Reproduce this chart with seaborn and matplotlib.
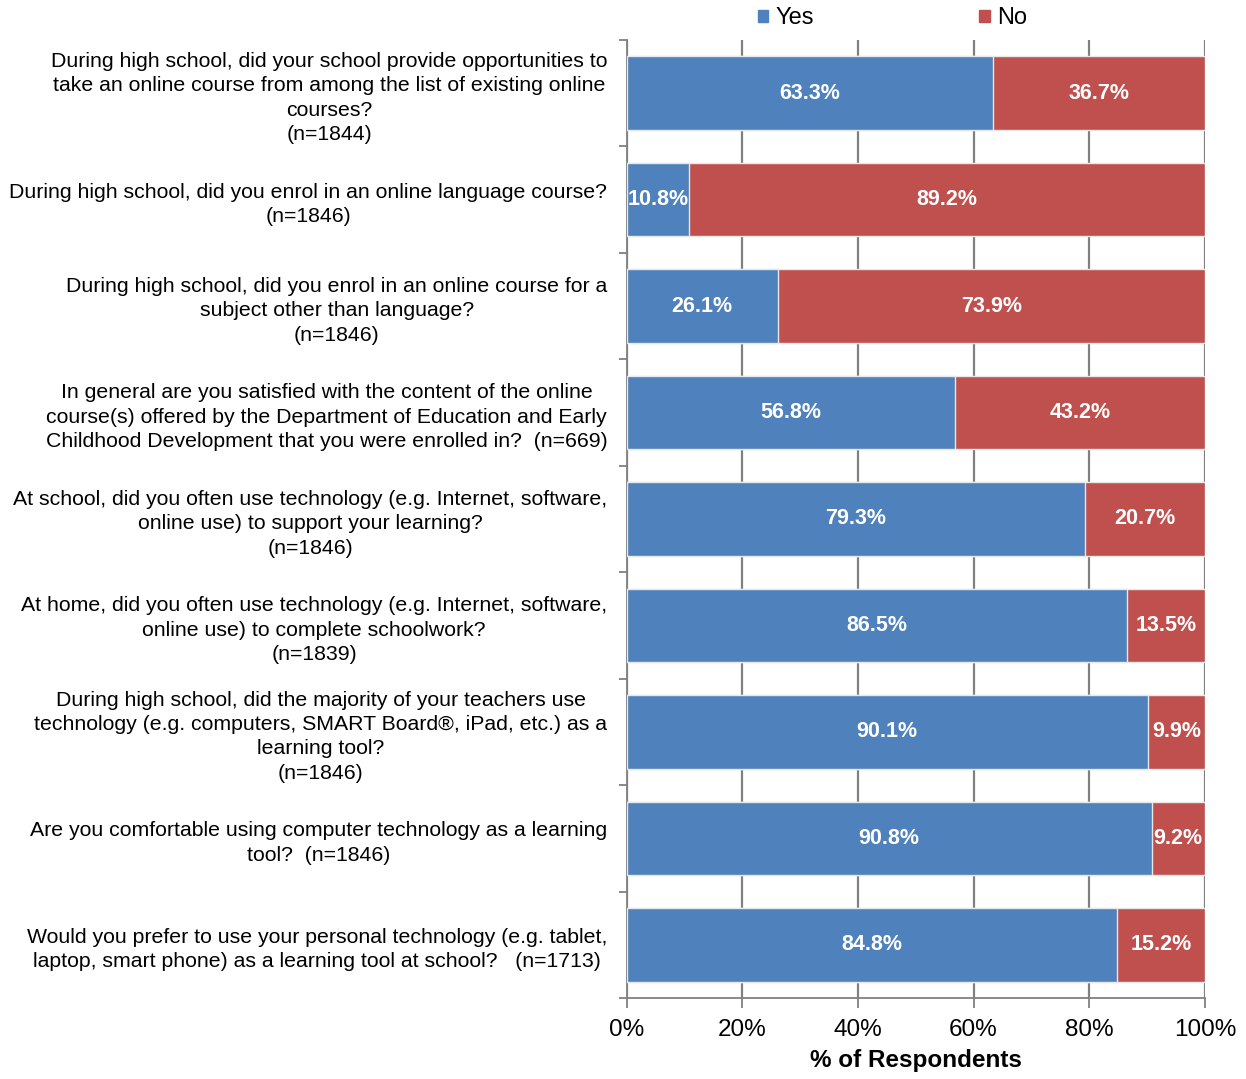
import numpy as np
import pandas as pd
import matplotlib
matplotlib.use("Agg")
import matplotlib.pyplot as plt
from matplotlib.patches import Patch
from matplotlib.ticker import MultipleLocator, FixedLocator
import seaborn as sns

questions = [
    "During high school, did your school provide opportunities to\ntake an online course from among the list of existing online\ncourses?\n(n=1844)",
    "During high school, did you enrol in an online language course?\n(n=1846)",
    "During high school, did you enrol in an online course for a\nsubject other than language?\n(n=1846)",
    "In general are you satisfied with the content of the online\ncourse(s) offered by the Department of Education and Early\nChildhood Development that you were enrolled in?  (n=669)",
    "At school, did you often use technology (e.g. Internet, software,\nonline use) to support your learning?\n(n=1846)",
    "At home, did you often use technology (e.g. Internet, software,\nonline use) to complete schoolwork?\n(n=1839)",
    "During high school, did the majority of your teachers use\ntechnology (e.g. computers, SMART Board®, iPad, etc.) as a\nlearning tool?\n(n=1846)",
    "Are you comfortable using computer technology as a learning\ntool?  (n=1846)",
    "Would you prefer to use your personal technology (e.g. tablet,\nlaptop, smart phone) as a learning tool at school?   (n=1713)",
]
yes = [63.3, 10.8, 26.1, 56.8, 79.3, 86.5, 90.1, 90.8, 84.8]
no = [36.7, 89.2, 73.9, 43.2, 20.7, 13.5, 9.9, 9.2, 15.2]

blue = "#4F81BD"
red = "#C0504D"

df = pd.DataFrame({"q": questions, "yes": yes, "no": no})
df["total"] = df["yes"] + df["no"]

sns.set_style("white")
plt.rcParams["font.family"] = ["Liberation Sans", "DejaVu Sans"]
plt.rcParams["text.color"] = "black"
plt.rcParams["xtick.color"] = "black"
plt.rcParams["ytick.color"] = "black"
plt.rcParams["axes.labelcolor"] = "black"

fig = plt.figure(figsize=(12.46, 10.79), dpi=100)
ax = fig.add_axes([0.503, 0.075, 0.464, 0.888])

sns.barplot(data=df, y="q", x="total", color=red, orient="h", width=0.69,
            edgecolor="#e8e8e8", linewidth=1, saturation=1, ax=ax, zorder=3)
sns.barplot(data=df, y="q", x="yes", color=blue, orient="h", width=0.69,
            edgecolor="#e8e8e8", linewidth=1, saturation=1, ax=ax, zorder=4)

for i, (y_, n_) in enumerate(zip(yes, no)):
    ax.text(y_ / 2, i, f"{y_:.1f}%", ha="center", va="center", color="white",
            fontsize=15.5, fontweight="bold", zorder=5)
    ax.text(y_ + n_ / 2, i, f"{n_:.1f}%", ha="center", va="center", color="white",
            fontsize=15.5, fontweight="bold", zorder=5)

ax.set_xlim(0, 100)
ax.set_ylim(len(questions) - 0.5, -0.5)
ax.xaxis.set_major_locator(MultipleLocator(20))
ax.set_xticklabels([f"{int(v)}%" for v in ax.get_xticks()])
ax.grid(axis="x", color="#808080", linewidth=1.6, zorder=0)
ax.set_axisbelow(True)

ax.yaxis.set_minor_locator(FixedLocator(np.arange(-0.5, len(questions), 1)))
ax.tick_params(axis="y", which="major", length=0, labelsize=15.3, pad=14)
ax.tick_params(axis="y", which="minor", length=6, width=1.3, color="#808080", left=True)
ax.tick_params(axis="x", which="major", length=7, width=1.3, color="#808080",
               bottom=True, labelsize=17.5, pad=8)
for lab in ax.get_yticklabels():
    lab.set_multialignment("center")
    lab.set_linespacing(1.36)

for s in ["top", "right"]:
    ax.spines[s].set_visible(False)
for s in ["left", "bottom"]:
    ax.spines[s].set_color("#808080")
    ax.spines[s].set_linewidth(1.3)

ax.set_ylabel("")
ax.set_xlabel("% of Respondents", fontsize=17.5, fontweight="bold", labelpad=6)

handles = [Patch(color=blue, label="Yes"), Patch(color=red, label="No")]
fig.legend(handles=handles, loc="center", bbox_to_anchor=(0.716, 0.983), ncol=2,
           frameon=False, fontsize=17, handlelength=0.45, handleheight=0.45,
           handletextpad=0.3, columnspacing=7.0)

fig.savefig("out.png", dpi=100)
